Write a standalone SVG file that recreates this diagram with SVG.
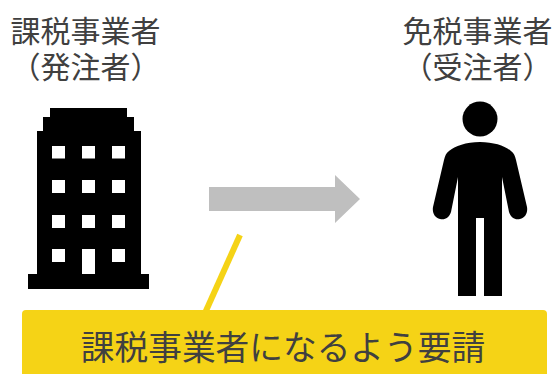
<svg xmlns="http://www.w3.org/2000/svg" width="556" height="374" viewBox="0 0 556 374">
<style>
text{font-family:"Noto Sans CJK JP","Noto Sans",sans-serif;fill:#404040;text-anchor:middle}
.t{font-size:30px}
.b{font-size:33.7px}
.k{fill:#000}
.w{fill:#fff}
</style>
<rect width="556" height="374" fill="#fff"/>
<g id="issuer">
<text class="t" x="85.500" y="42">課税事業者<tspan x="85.500" dy="36">（発注者）</tspan></text>
<path class="k" d="M50 108H127V117H134V131H141V274H149V289H28V274H37V131H43V117H50Z"/>
<g class="w">
<rect x="52" y="146" width="13" height="12.500"/><rect x="82" y="146" width="13" height="12.500"/><rect x="112" y="146" width="13" height="12.500"/>
<rect x="52" y="180" width="13" height="13"/><rect x="82" y="180" width="13" height="13"/><rect x="112" y="180" width="13" height="13"/>
<rect x="52" y="215" width="13" height="13"/><rect x="82" y="215" width="13" height="13"/><rect x="112" y="215" width="13" height="13"/>
<rect x="52" y="249" width="13" height="13"/><rect x="82" y="249" width="13" height="25"/><rect x="112" y="249" width="13" height="13"/>
</g>
</g>
<g id="contractor">
<text class="t" x="477.500" y="42">免税事業者<tspan x="477.500" dy="36">（受注者）</tspan></text>
<circle class="k" cx="480" cy="119" r="17.500"/>
<path class="k" d="M480 142C466 142 455 146 449 151C446 153 445 156 444 160L433 207C432 213 435 218 440 219C445 220 449 218 451 212L458 177V296H476V218H484V296H502V177L509 212C511 218 515 220 520 219C525 218 528 213 527 207L516 160C515 156 514 153 511 151C505 146 494 142 480 142Z"/>
</g>
<g id="connectors">
<path id="flow-arrow" fill="#bfbfbf" d="M209 187H335V175L360 199L335 223V211H209Z"/>
<line id="callout-line" x1="240" y1="235" x2="205" y2="313" stroke="#f5d316" stroke-width="6"/>
</g>
<g id="request">
<rect x="22" y="310" width="525" height="80" rx="4" fill="#f5d316"/>
<text class="b" x="283" y="360">課税事業者になるよう要請</text>
</g>
</svg>
